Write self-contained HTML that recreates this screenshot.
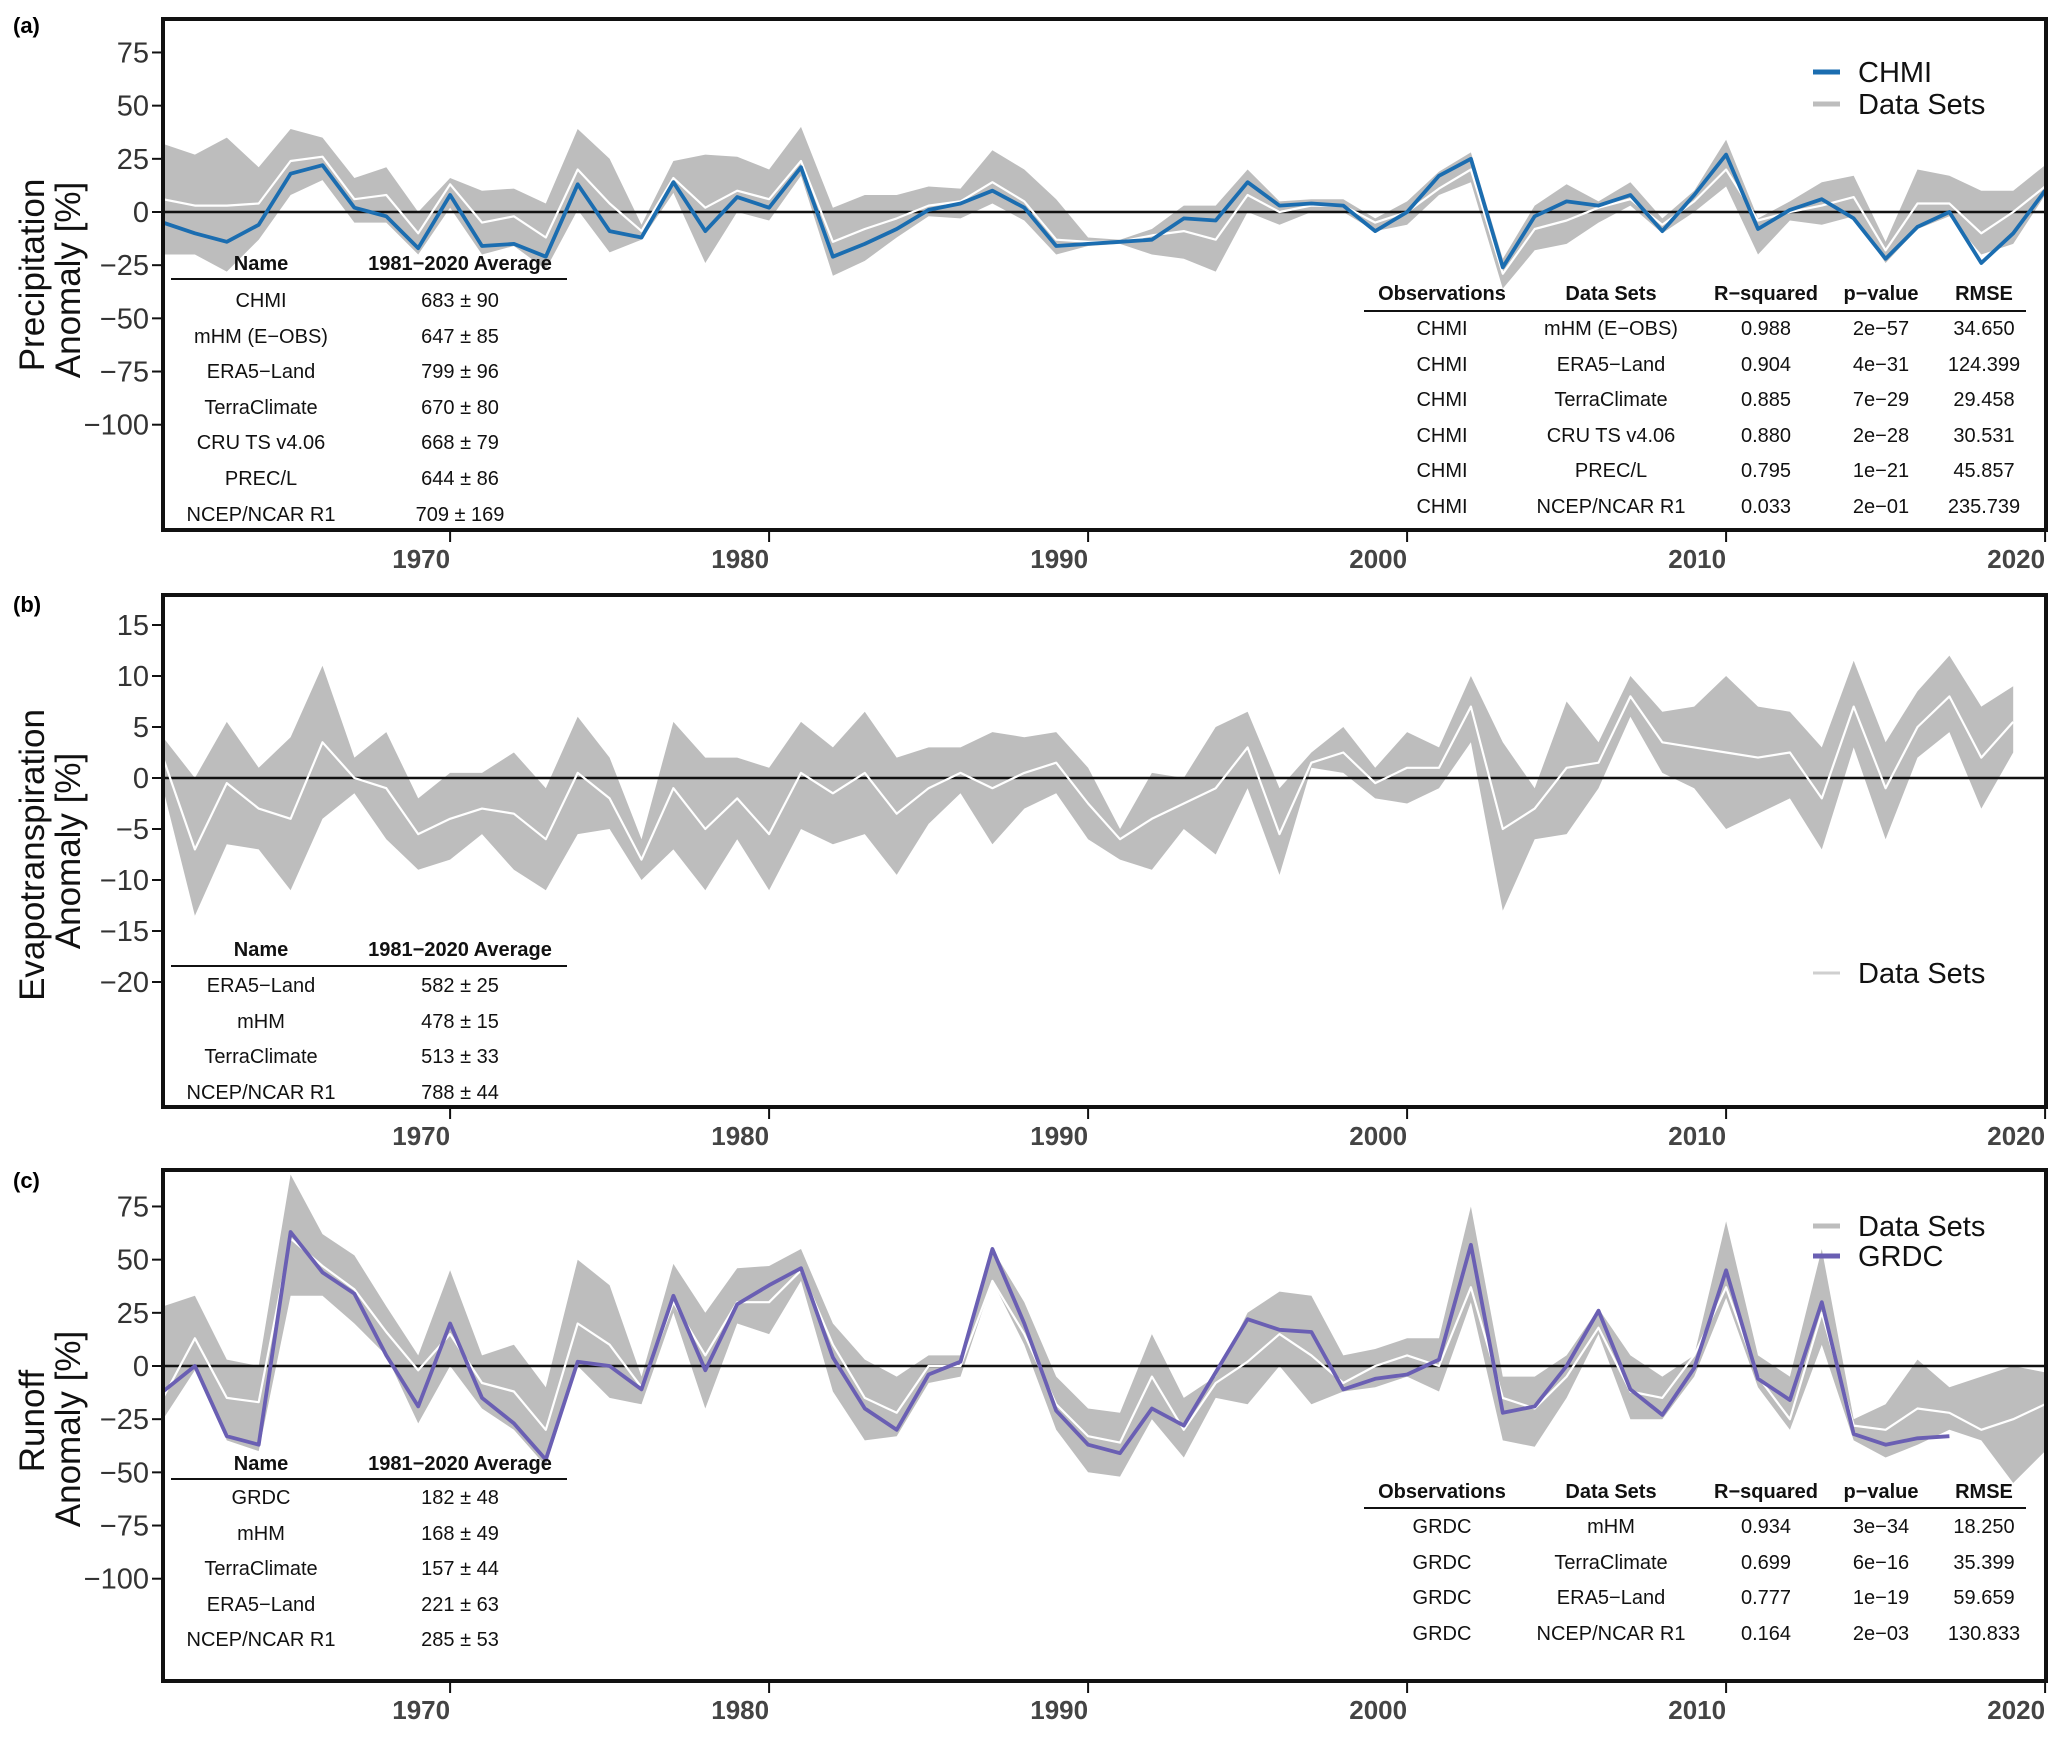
<!DOCTYPE html>
<html><head><meta charset="utf-8"><style>
html,body{margin:0;padding:0;background:#fff}
svg{display:block;font-family:"Liberation Sans",Arial,sans-serif}
</style></head><body>
<svg id="fig" width="2067" height="1739" viewBox="0 0 2067 1739" xmlns="http://www.w3.org/2000/svg">
<g id="layer"></g>

<text x="13" y="33" font-size="22" font-weight="bold">(a)</text>
<text x="13" y="612" font-size="22" font-weight="bold">(b)</text>
<text x="13" y="1188" font-size="22" font-weight="bold">(c)</text>

<g font-size="35" fill="#111" text-anchor="middle">
<text transform="translate(44,275) rotate(-90)">Precipitation</text>
<text transform="translate(80,280) rotate(-90)">Anomaly [%]</text>
<text transform="translate(44,855) rotate(-90)">Evapotranspiration</text>
<text transform="translate(80,851) rotate(-90)">Anomaly [%]</text>
<text transform="translate(44,1421) rotate(-90)">Runoff</text>
<text transform="translate(80,1429) rotate(-90)">Anomaly [%]</text>
</g>

<g font-size="29" fill="#111">
<line x1="1813" y1="72" x2="1840" y2="72" stroke="#1b6db0" stroke-width="5"/>
<text x="1858" y="82">CHMI</text>
<line x1="1813" y1="104" x2="1840" y2="104" stroke="#bdbdbd" stroke-width="5"/>
<text x="1858" y="114">Data Sets</text>
<line x1="1813" y1="973" x2="1840" y2="973" stroke="#cfcfcf" stroke-width="3"/>
<text x="1858" y="983">Data Sets</text>
<line x1="1813" y1="1226" x2="1840" y2="1226" stroke="#bdbdbd" stroke-width="5"/>
<text x="1858" y="1236">Data Sets</text>
<line x1="1813" y1="1256" x2="1840" y2="1256" stroke="#6a5fb3" stroke-width="5"/>
<text x="1858" y="1266">GRDC</text>
</g>

<g font-size="20" fill="#111" text-anchor="middle">
<g>
<text x="261" y="270" font-weight="bold">Name</text><text x="460" y="270" font-weight="bold">1981−2020 Average</text>
<line x1="171" y1="279" x2="567" y2="279" stroke="#111" stroke-width="2"/>
<text x="261" y="307">CHMI</text><text x="460" y="307">683 ± 90</text>
<text x="261" y="343">mHM (E−OBS)</text><text x="460" y="343">647 ± 85</text>
<text x="261" y="378">ERA5−Land</text><text x="460" y="378">799 ± 96</text>
<text x="261" y="414">TerraClimate</text><text x="460" y="414">670 ± 80</text>
<text x="261" y="449">CRU TS v4.06</text><text x="460" y="449">668 ± 79</text>
<text x="261" y="485">PREC/L</text><text x="460" y="485">644 ± 86</text>
<text x="261" y="521">NCEP/NCAR R1</text><text x="460" y="521">709 ± 169</text>
</g>
<g>
<text x="1442" y="300" font-weight="bold">Observations</text><text x="1611" y="300" font-weight="bold">Data Sets</text><text x="1766" y="300" font-weight="bold">R−squared</text><text x="1881" y="300" font-weight="bold">p−value</text><text x="1984" y="300" font-weight="bold">RMSE</text>
<line x1="1364" y1="311" x2="2026" y2="311" stroke="#111" stroke-width="2"/>
<text x="1442" y="335">CHMI</text><text x="1611" y="335">mHM (E−OBS)</text><text x="1766" y="335">0.988</text><text x="1881" y="335">2e−57</text><text x="1984" y="335">34.650</text>
<text x="1442" y="371">CHMI</text><text x="1611" y="371">ERA5−Land</text><text x="1766" y="371">0.904</text><text x="1881" y="371">4e−31</text><text x="1984" y="371">124.399</text>
<text x="1442" y="406">CHMI</text><text x="1611" y="406">TerraClimate</text><text x="1766" y="406">0.885</text><text x="1881" y="406">7e−29</text><text x="1984" y="406">29.458</text>
<text x="1442" y="442">CHMI</text><text x="1611" y="442">CRU TS v4.06</text><text x="1766" y="442">0.880</text><text x="1881" y="442">2e−28</text><text x="1984" y="442">30.531</text>
<text x="1442" y="477">CHMI</text><text x="1611" y="477">PREC/L</text><text x="1766" y="477">0.795</text><text x="1881" y="477">1e−21</text><text x="1984" y="477">45.857</text>
<text x="1442" y="513">CHMI</text><text x="1611" y="513">NCEP/NCAR R1</text><text x="1766" y="513">0.033</text><text x="1881" y="513">2e−01</text><text x="1984" y="513">235.739</text>
</g>
<g>
<text x="261" y="956" font-weight="bold">Name</text><text x="460" y="956" font-weight="bold">1981−2020 Average</text>
<line x1="171" y1="966" x2="567" y2="966" stroke="#111" stroke-width="2"/>
<text x="261" y="992">ERA5−Land</text><text x="460" y="992">582 ± 25</text>
<text x="261" y="1028">mHM</text><text x="460" y="1028">478 ± 15</text>
<text x="261" y="1063">TerraClimate</text><text x="460" y="1063">513 ± 33</text>
<text x="261" y="1099">NCEP/NCAR R1</text><text x="460" y="1099">788 ± 44</text>
</g>
<g>
<text x="261" y="1470" font-weight="bold">Name</text><text x="460" y="1470" font-weight="bold">1981−2020 Average</text>
<line x1="171" y1="1479" x2="567" y2="1479" stroke="#111" stroke-width="2"/>
<text x="261" y="1504">GRDC</text><text x="460" y="1504">182 ± 48</text>
<text x="261" y="1540">mHM</text><text x="460" y="1540">168 ± 49</text>
<text x="261" y="1575">TerraClimate</text><text x="460" y="1575">157 ± 44</text>
<text x="261" y="1611">ERA5−Land</text><text x="460" y="1611">221 ± 63</text>
<text x="261" y="1646">NCEP/NCAR R1</text><text x="460" y="1646">285 ± 53</text>
</g>
<g>
<text x="1442" y="1498" font-weight="bold">Observations</text><text x="1611" y="1498" font-weight="bold">Data Sets</text><text x="1766" y="1498" font-weight="bold">R−squared</text><text x="1881" y="1498" font-weight="bold">p−value</text><text x="1984" y="1498" font-weight="bold">RMSE</text>
<line x1="1364" y1="1508" x2="2026" y2="1508" stroke="#111" stroke-width="2"/>
<text x="1442" y="1533">GRDC</text><text x="1611" y="1533">mHM</text><text x="1766" y="1533">0.934</text><text x="1881" y="1533">3e−34</text><text x="1984" y="1533">18.250</text>
<text x="1442" y="1569">GRDC</text><text x="1611" y="1569">TerraClimate</text><text x="1766" y="1569">0.699</text><text x="1881" y="1569">6e−16</text><text x="1984" y="1569">35.399</text>
<text x="1442" y="1604">GRDC</text><text x="1611" y="1604">ERA5−Land</text><text x="1766" y="1604">0.777</text><text x="1881" y="1604">1e−19</text><text x="1984" y="1604">59.659</text>
<text x="1442" y="1640">GRDC</text><text x="1611" y="1640">NCEP/NCAR R1</text><text x="1766" y="1640">0.164</text><text x="1881" y="1640">2e−03</text><text x="1984" y="1640">130.833</text>
</g>
</g>
</svg>
<script>
const startYear = 1961;
const xTickYears = [1970, 1980, 1990, 2000, 2010, 2020];
const precipTicks = [75, 50, 25, 0, -25, -50, -75, -100];
const etTicks = [15, 10, 5, 0, -5, -10, -15, -20];
const runoffTicks = [75, 50, 25, 0, -25, -50, -75, -100];

const precipChmi = [-5,-10,-14,-6,18,22,2,-2,-17,8,-16,-15,-21,13,-9,-12,14,-9,7,2,21,-21,-15,-8,1,4,10,2,-16,-15,-14,-13,-3,-4,14,3,4,3,-9,0,17,25,-26,-2,5,3,8,-9,8,27,-8,1,6,-3,-22,-7,0,-24,-10,10];
const precipMean = [6,3,3,4,24,26,6,8,-10,13,-5,-2,-12,20,4,-9,16,2,10,6,24,-14,-8,-3,3,5,14,5,-13,-14,-14,-11,-9,-13,8,0,3,3,-5,0,11,20,-29,-8,-4,2,6,-6,5,20,-4,0,3,7,-18,4,4,-10,0,12];
const precipHigh = [32,27,35,21,39,35,16,21,0,16,10,11,4,39,25,-6,24,27,26,20,40,2,8,8,12,11,29,20,6,-12,-13,-8,3,3,20,5,6,6,-3,5,19,28,-22,3,13,5,14,-3,10,34,-3,5,14,17,-14,20,17,10,10,22];
const precipLow = [-20,-20,-28,-13,8,15,-5,-5,-20,2,-20,-16,-27,1,-19,-13,9,-24,0,-4,17,-30,-23,-12,-2,-3,4,-4,-20,-16,-15,-20,-22,-28,0,-6,0,0,-9,-6,8,14,-36,-18,-15,-5,3,-10,0,12,-20,-4,-6,-2,-24,-8,-2,-20,-15,8];

const etHigh = [4,0,5.5,1,4,11,2,4.5,-2,0.5,0.5,2.5,-1,6,2,-6,5.5,2,2,1,5.5,3,6.5,2,3,3,4.5,4,4.5,1,-5,0.5,0,5,6.5,-1,2.5,5,1,4.5,3,10,3.5,-1,7.5,3.5,10,6.5,7,10,7,6.5,3,11.5,3.5,8.5,12,7,9];
const etMean = [2,-7,-0.5,-3,-4,3.5,0,-1,-5.5,-4,-3,-3.5,-6,0.5,-2,-8,-1,-5,-2,-5.5,0.5,-1.5,0.5,-3.5,-1,0.5,-1,0.5,1.5,-2.5,-6,-4,-2.5,-1,3,-5.5,1.5,2.5,-0.5,1,1,7,-5,-3,1,1.5,8,3.5,3,2.5,2,2.5,-2,7,-1,5,8,2,5.5];
const etLow = [-1,-13.5,-6.5,-7,-11,-4,-1.5,-6,-9,-8,-5.5,-9,-11,-5.5,-5,-10,-7,-11,-6,-11,-5,-6.5,-5.5,-9.5,-4.5,-1.5,-6.5,-3,-1.5,-6,-8,-9,-5,-7.5,-1,-9.5,1,0.5,-2,-2.5,-1,3.5,-13,-6,-5.5,-1,6,0.5,-1,-5,-3.5,-2,-7,3,-6,2,4.5,-3,2.5];

const runoffGrdc = [-12,0,-33,-37,63,44,34,5,-19,20,-15,-27,-44,2,0,-11,33,-2,29,38,46,4,-20,-30,-4,2,55,20,-21,-37,-41,-20,-28,-3,22,17,16,-11,-6,-4,3,57,-22,-19,0,26,-11,-23,-1,45,-6,-16,30,-32,-37,-34,-33];
const runoffMean = [-15,13,-15,-17,60,47,36,16,-2,15,-8,-12,-30,20,10,-10,30,5,30,30,45,10,-15,-22,0,0,40,15,-18,-33,-36,-5,-30,-8,2,15,5,-8,0,5,0,37,-15,-20,-5,18,-12,-15,5,37,-5,-25,25,-28,-30,-20,-22,-30,-25,-18];
const runoffHigh = [28,33,3,0,90,62,52,28,5,45,5,10,-10,50,38,-5,48,25,46,47,55,20,3,-5,5,5,55,30,-5,-20,-22,15,-15,-5,25,35,33,5,8,13,13,75,-5,-5,5,27,5,-5,5,68,5,-5,55,-25,-18,3,-10,-5,0,-3];
const runoffLow = [-25,-2,-35,-40,33,33,20,5,-27,0,-20,-30,-47,0,-15,-18,25,-20,20,15,40,-12,-35,-33,-8,-5,40,10,-30,-50,-52,-25,-43,-15,-18,0,-18,-12,-10,-5,-12,30,-35,-38,-15,15,-25,-25,-5,32,-10,-30,10,-35,-43,-37,-30,-35,-55,-40];

const NS = "http://www.w3.org/2000/svg";
const layer = document.getElementById("layer");
const X0 = 163, X1 = 2046, YRW = 31.9;
function xScale(yr){ return X0 + (yr - startYear) * YRW; }
function mk(tag, attrs){ const e = document.createElementNS(NS, tag); for (const k in attrs) e.setAttribute(k, attrs[k]); layer.appendChild(e); return e; }

function panel(key, top, bottom, y0, k, ticks, high, low, mean, obs, obsColor){
  const ys = v => y0 - v * k;
  const clipId = "clip-" + key;
  const defs = mk("defs", {});
  const cp = document.createElementNS(NS, "clipPath"); cp.setAttribute("id", clipId);
  const r = document.createElementNS(NS, "rect"); r.setAttribute("x", X0); r.setAttribute("y", top); r.setAttribute("width", X1 - X0); r.setAttribute("height", bottom - top);
  cp.appendChild(r); defs.appendChild(cp);
  const g = mk("g", {"clip-path": "url(#" + clipId + ")"});
  
  
  let d = "";
  high.forEach((v, i) => { d += (i ? "L" : "M") + xScale(startYear + i).toFixed(1) + "," + ys(v).toFixed(1); });
  for (let i = low.length - 1; i >= 0; i--) d += "L" + xScale(startYear + i).toFixed(1) + "," + ys(low[i]).toFixed(1);
  const band = document.createElementNS(NS, "path");
  band.setAttribute("d", d + "Z"); band.setAttribute("fill", "#bdbdbd");
  
  
  g.appendChild(band);
  const zero = document.createElementNS(NS, "line");
  zero.setAttribute("x1", X0); zero.setAttribute("x2", X1); zero.setAttribute("y1", ys(0)); zero.setAttribute("y2", ys(0));
  zero.setAttribute("stroke", "#111"); zero.setAttribute("stroke-width", "2.5");
  
  
  g.appendChild(zero);
  const line = (arr, col, w, name) => {
    const p = document.createElementNS(NS, "polyline");
    p.setAttribute("points", arr.map((v, i) => xScale(startYear + i).toFixed(1) + "," + ys(v).toFixed(1)).join(" "));
    p.setAttribute("fill", "none"); p.setAttribute("stroke", col); p.setAttribute("stroke-width", w); p.setAttribute("stroke-linejoin", "round");
    
    
    g.appendChild(p);
  };
  line(mean, "#ffffff", 2.2, 'datasets-mean-line-' + key);
  if (obs) line(obs, obsColor, 3.8, 'observation-line-' + key);
  const fr = mk("rect", {x: X0, y: top, width: X1 - X0, height: bottom - top, fill: "none", stroke: "#111", "stroke-width": 4});
  
  
  ticks.forEach(t => {
    const y = ys(t);
    const tk = mk("line", {x1: X0 - 11, x2: X0, y1: y, y2: y, stroke: "#111", "stroke-width": 2});
    
    
    const tl = mk("text", {x: X0 - 14, y: y + 10, "font-size": 29, fill: "#333", "text-anchor": "end"});
    tl.textContent = (t < 0 ? "\u2212" + Math.abs(t) : String(t));
    
    
  });
  xTickYears.forEach(yr => {
    const x = xScale(yr);
    const tk = mk("line", {x1: x, x2: x, y1: bottom, y2: bottom + 12, stroke: "#111", "stroke-width": 2});
    
    
    const tl = mk("text", {x: x, y: bottom + 38, "font-size": 26, "font-weight": "bold", fill: "#444", "text-anchor": "end"});
    tl.textContent = String(yr);
    
    
  });
}
panel("a", 19, 530, 212, 2.127, precipTicks, precipHigh, precipLow, precipMean, precipChmi, "#1b6db0");
panel("b", 595, 1107, 778, 10.2, etTicks, etHigh, etLow, etMean, null, null);
panel("c", 1170, 1681, 1366, 2.127, runoffTicks, runoffHigh, runoffLow, runoffMean, runoffGrdc, "#6a5fb3");
const svg = document.getElementById("fig");
svg.insertBefore(layer, svg.firstChild);
</script>
</body></html>
